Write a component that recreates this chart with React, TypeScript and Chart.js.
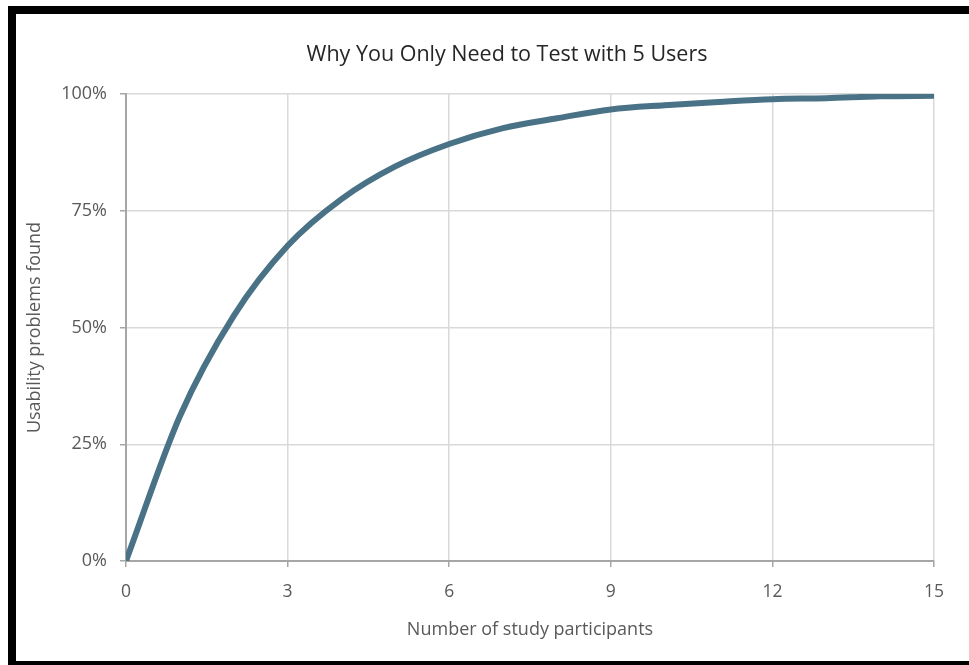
import React, { useEffect, useRef } from "react";
import { Chart, registerables } from "chart.js";

Chart.register(...registerables);

const titleText = "Why You Only Need to Test with 5 Users";
const xAxisTitle = "Number of study participants";
const yAxisTitle = "Usability problems found";
const participants = [0, 1, 2, 3, 4, 5, 6, 7, 8, 9, 10, 11, 12, 13, 14, 15];
const problemsFound = [0, 31, 52.5, 67.5, 77.5, 84.5, 89.3, 92.7, 94.8, 96.7, 97.6, 98.3, 98.9, 99.1, 99.5, 99.6];
const xTicks = [0, 3, 6, 9, 12, 15];
const yTicks = [0, 25, 50, 75, 100];

const titleShift = {
  id: "titleShift",
  afterLayout(chart: any) {
    const t = chart.titleBlock;
    if (t) {
      t.left = 80;
      t.right = 934;
      t.width = t.right - t.left;
    }
  },
};

export default function App() {
  const ref = useRef<HTMLCanvasElement | null>(null);

  useEffect(() => {
    document.body.style.margin = "0";
    const canvas = ref.current;
    if (!canvas) return;
    const chart = new Chart(canvas, {
      type: "line",
      data: {
        datasets: [
          {
            data: participants.map((p, i) => ({ x: p, y: problemsFound[i] })),
            borderColor: "#4a7286",
            borderWidth: 6,
            pointRadius: 0,
            cubicInterpolationMode: "monotone",
            fill: false,
          },
        ],
      },
      plugins: [titleShift],
      options: {
        animation: false,
        responsive: false,
        maintainAspectRatio: false,
        layout: { padding: { top: 14, left: 16, right: 35, bottom: 4 } },
        plugins: {
          legend: { display: false },
          tooltip: { enabled: false },
          title: {
            display: true,
            text: titleText,
            color: "#262626",
            font: { family: "'Open Sans'", size: 21.5, weight: "normal" },
            padding: { top: 28, bottom: 26.2 },
          },
        },
        scales: {
          x: {
            type: "linear",
            min: 0,
            max: 15,
            afterBuildTicks: (scale: any) => {
              scale.ticks = xTicks.map((v) => ({ value: v }));
            },
            afterFit: (scale: any) => {
              scale.height = 100;
            },
            ticks: {
              color: "#595959",
              font: { family: "'Open Sans'", size: 17.5 },
              padding: 15,
              maxRotation: 0,
            },
            grid: { color: "#d9d9d9", lineWidth: 1.5, tickColor: "#a6a6a6", tickLength: 6 },
            border: { color: "#a6a6a6", width: 2 },
            title: {
              display: true,
              text: xAxisTitle,
              color: "#595959",
              font: { family: "'Open Sans'", size: 18 },
              padding: { top: 0, bottom: 20 },
            },
          },
          y: {
            type: "linear",
            min: 0,
            max: 100,
            afterBuildTicks: (scale: any) => {
              scale.ticks = yTicks.map((v) => ({ value: v }));
            },
            afterFit: (scale: any) => {
              scale.width = 110;
            },
            ticks: {
              color: "#595959",
              font: { family: "'Open Sans'", size: 18 },
              padding: 13,
              callback: (v: any) => v + "%",
            },
            grid: { color: "#d9d9d9", lineWidth: 1.5, tickColor: "#a6a6a6", tickLength: 6 },
            border: { color: "#a6a6a6", width: 2 },
            title: {
              display: true,
              text: yAxisTitle,
              color: "#595959",
              font: { family: "'Open Sans'", size: 18 },
              padding: { top: 8.5, bottom: 0 },
            },
          },
        },
      },
    } as any);
    return () => chart.destroy();
  }, []);

  return (
    <div style={{ position: "fixed", left: 0, top: 0, width: 969, height: 665, background: "#fff", overflow: "hidden" }}>
      <canvas ref={ref} width={969} height={665} style={{ position: "absolute", left: 0, top: 0, width: 969, height: 665 }} />
      <div
        style={{
          position: "absolute",
          left: 8,
          top: 6,
          width: 969,
          height: 659,
          boxSizing: "border-box",
          borderTop: "8px solid #000",
          borderLeft: "8px solid #000",
          borderBottom: "4px solid #000",
          pointerEvents: "none",
        }}
      />
    </div>
  );
}
